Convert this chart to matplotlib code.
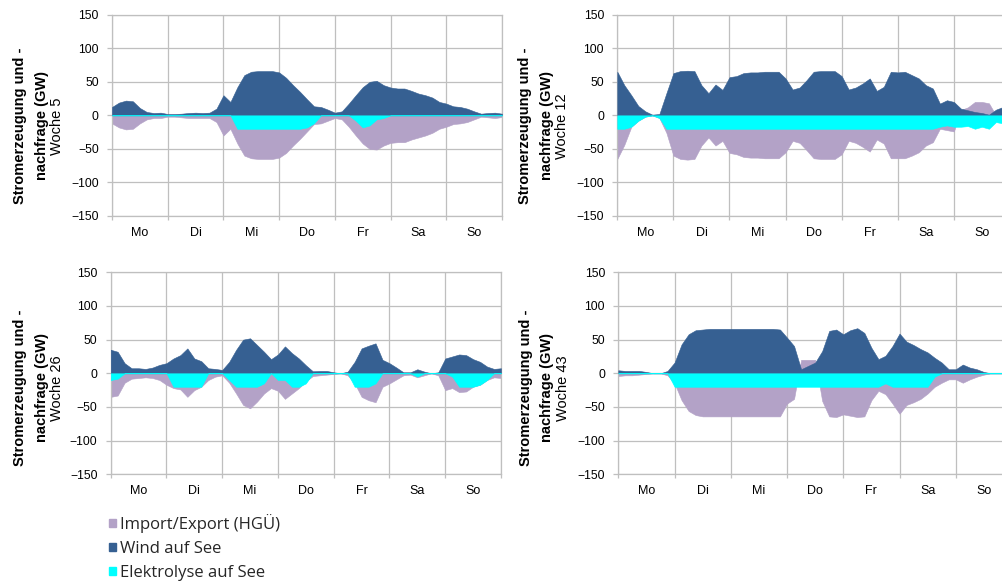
import matplotlib.pyplot as plt
from matplotlib.patches import Patch
import numpy as np

# time axis: one value every 3 hours over the week (0..168 h)
hours = np.arange(0, 169, 3)
days = ['Mo', 'Di', 'Mi', 'Do', 'Fr', 'Sa', 'So']
weeks = ['Woche 5', 'Woche 12', 'Woche 26', 'Woche 43']
series_names = ['Import/Export (HGÜ)', 'Wind auf See', 'Elektrolyse auf See']

# GW (one row per day, last value = end of week)
wind_w5 = [12.5, 19, 22, 21, 11, 5, 3.5, 4,
           2, 2, 2.5, 3.5, 4, 3.5, 4, 10,
           30, 20, 42, 60, 65, 66, 66, 66,
           64, 56, 45, 35, 24, 13.5, 12.5, 8.5,
           4, 6, 17.5, 30, 42, 50, 51.5, 45,
           41.5, 40, 40, 36.5, 32.5, 30, 26.5, 20,
           17.5, 13.5, 12.5, 10, 6, 2.5, 3.5, 4,
           2.5]
imex_w5 = [-12, -18, -21, -20, -12, -6, -4, -4,
           -2, -2, -3, -4, -4, -4, -4, -10,
           -30, -20, -42, -60, -64, -65, -65, -65,
           -63, -56, -45, -35, -24, -13, -12, -8,
           -4, -6, -17, -30, -42, -50, -51, -45,
           -41, -40, -40, -36, -33, -30, -26, -20,
           -17, -13, -12, -10, -6, -2, -3, -4,
           -2.5]
elec_w5 = [0, 0, 0, 0, 0, 0, 0, 0,
           0, 0, 0, 0, 0, 0, 0, 0,
           0, 0, -20, -20, -20, -20, -20, -20,
           -20, -20, -20, -20, -18, -12, 0, 0,
           0, 0, 0, -8, -18, -15, -6, -4,
           0, 0, 0, 0, 0, 0, 0, 0,
           0, 0, 0, 0, 0, 0, 0, 0,
           0]

wind_w12 = [65, 45, 30, 14, 6, 1, 2, 33,
            63, 66, 66.5, 66, 45, 33, 46, 38,
            57, 58.5, 63, 64, 64, 65, 65, 65,
            55, 38.5, 41.5, 52.5, 65, 66, 66, 66,
            58.5, 38.5, 41.5, 47.5, 55, 36.5, 42.5, 65,
            64, 65, 60, 55, 45, 40, 17.5, 22.5,
            20, 10, 7.5, 5, 3.5, 1, 8.5, 12.5,
            15]
imex_w12 = [-65, -44, -17, -8, -2, 0, -4, -26,
            -60, -65, -66, -65, -45, -33, -45, -38,
            -56, -58, -62, -63, -63, -64, -64, -64,
            -55, -38, -41, -52, -64, -65, -65, -65,
            -58, -38, -41, -47, -54, -36, -42, -64,
            -64, -64, -60, -55, -45, -40, -20, -22,
            -24, 8, 12, 20, 20, 18, 0, 0,
            0]
elec_w12 = [-20, -20, -17, -8, -2, 0, -4, -20,
            -20, -20, -20, -20, -20, -20, -20, -20,
            -20, -20, -20, -20, -20, -20, -20, -20,
            -20, -20, -20, -20, -20, -20, -20, -20,
            -20, -20, -20, -20, -20, -20, -20, -20,
            -20, -20, -20, -20, -20, -20, -17, -15,
            -17, -17, -16, -20, -17, -20, -10, -12,
            -13]

wind_w26 = [35, 32, 15, 7.5, 7.5, 6.5, 8.5, 12.5,
            15, 22, 27, 37, 22, 18, 7.5, 6.5,
            5, 17, 35, 50, 52, 42, 32, 21,
            28, 40, 30, 22, 12, 3, 3.5, 3.5,
            1.5, 0, 2.5, 17, 37, 41, 44.5, 20,
            15, 8.5, 1.5, 1.5, 6, 2.5, 0, 1.5,
            22, 25, 28, 27, 21, 17, 10, 6.5,
            7.5]
imex_w26 = [-35, -33, -14, -8, -7, -6, -7, -10,
            -17, -22, -24, -35, -25, -20, -10, -5,
            -3, -14, -30, -47, -52, -42, -30, -22,
            -26, -38, -30, -22, -12, -4, -3, -2,
            -1, 0, -3, -15, -35, -40, -43, -20,
            -15, -9, -3, -2, -6, -3, 0, -3,
            -25, -22, -28, -27, -20, -17, -10, -6,
            -7]
elec_w26 = [-10, -8, 0, 0, 0, 0, 0, 0,
            0, -20, -20, -20, -20, -20, 0, 0,
            0, -10, -20, -20, -20, -20, -15, 0,
            -10, -10, -20, -20, -15, 0, 0, 0,
            0, 0, 0, -20, -20, -20, -15, 0,
            0, 0, 0, 0, -5, 0, 0, 0,
            0, -5, -20, -20, -20, -17, -10, 0,
            0]

wind_w43 = [4.5, 3.5, 3.5, 3.5, 2, 0, 0, 3.5,
            16, 43, 58, 64, 65, 66, 66, 66,
            66, 66, 66, 66, 66, 66, 66, 65,
            53, 40.5, 6, 11, 16, 33, 63, 65,
            58, 64, 67, 60, 38, 21, 26, 40.5,
            59, 47, 42, 36, 31, 23, 16, 6,
            6, 13, 8.5, 6, 2, 0, 0, 0,
            0]
imex_w43 = [-4, -3, -3, -2, -1, 0, 0, -3,
            -15, -40, -56, -62, -64, -64, -64, -64,
            -64, -64, -64, -64, -64, -64, -64, -64,
            -45, -38, 20, 20, 20, -41, -64, -65,
            -61, -63, -65, -64, -40, -26, -31, -45,
            -60, -47, -43, -38, -30, -20, -14, -9,
            -9, -14, -9, -5, -2, 0, 0, 0,
            0]
elec_w43 = [0, 0, 0, 0, 0, 0, 0, 0,
            -20, -20, -20, -20, -20, -20, -20, -20,
            -20, -20, -20, -20, -20, -20, -20, -20,
            -20, -20, -20, -20, -20, -20, -20, -20,
            -20, -20, -20, -20, -20, -20, -15, -20,
            -20, -20, -20, -20, -20, -5, 0, 0,
            0, 0, 0, 0, 0, 0, 0, 0,
            0]

c_imex = '#B3A2C7'
c_wind = '#366092'
c_elec = '#00FFFF'
c_grid = '#BFBFBF'

plt.rcParams['font.family'] = ['Liberation Sans', 'DejaVu Sans']

W, H = 1003, 582
fig = plt.figure(figsize=(W / 100, H / 100), dpi=100)


def rect(l, t, r, b):
    return [l / W, 1 - b / H, (r - l) / W, (b - t) / H]


panels = [
    (rect(112, 14.7, 502, 216), wind_w5, imex_w5, elec_w5, (20, 42, 57), 126),
    (rect(617.3, 14.7, 1010, 216), wind_w12, imex_w12, elec_w12, (525, 547, 562), 126),
    (rect(110.7, 272.3, 501, 474.3), wind_w26, imex_w26, elec_w26, (20, 42, 57), 388),
    (rect(618.3, 272.3, 1012, 474.3), wind_w43, imex_w43, elec_w43, (526, 547, 563), 388),
]

for (pos, wind, imex, elec, xs, yc), week in zip(panels, weeks):
    ax = fig.add_axes(pos)
    ax.fill_between(hours, 0, imex, color=c_imex, lw=0.4, zorder=2)
    ax.fill_between(hours, 0, wind, color=c_wind, lw=0.4, zorder=3)
    ax.fill_between(hours, 0, elec, color=c_elec, lw=0.4, zorder=4)

    ax.set_xlim(0, 168)
    ax.set_ylim(-150, 150)
    ax.set_yticks(range(-150, 151, 50))
    ax.set_xticks(range(0, 169, 24))
    ax.set_xticklabels([])
    ax.set_xticks(range(12, 168, 24), minor=True)
    ax.set_xticklabels(days, minor=True)
    ax.grid(True, color=c_grid, lw=0.9)
    ax.set_axisbelow(True)
    for s in ax.spines.values():
        s.set_color(c_grid)
        s.set_linewidth(0.9)
    ax.tick_params(axis='y', length=3.5, color=c_grid, width=0.9, pad=6, labelsize=8.7)
    ax.tick_params(axis='x', which='major', length=3, color=c_grid, width=0.9)
    ax.tick_params(axis='x', which='minor', length=0, pad=8, labelsize=9)

    fig.text(xs[0] / W, 1 - yc / H, 'Stromerzeugung und -', rotation=90,
             ha='center', va='center', fontsize=10.5, fontweight='bold')
    fig.text(xs[1] / W, 1 - yc / H, 'nachfrage (GW)', rotation=90,
             ha='center', va='center', fontsize=10.5, fontweight='bold')
    fig.text(xs[2] / W, 1 - yc / H, week, rotation=90,
             ha='center', va='center', fontsize=10.5)

handles = [Patch(color=c) for c in (c_imex, c_wind, c_elec)]
fig.legend(handles, series_names, loc='upper left',
           bbox_to_anchor=(109 / W, 1 - 514 / H), frameon=False,
           prop={'family': 'Open Sans', 'size': 12},
           handlelength=0.42, handleheight=0.42, handletextpad=0.22,
           labelspacing=0.48, borderpad=0, borderaxespad=0,
           labelcolor='#262626')

fig.savefig('out.png', dpi=100)
